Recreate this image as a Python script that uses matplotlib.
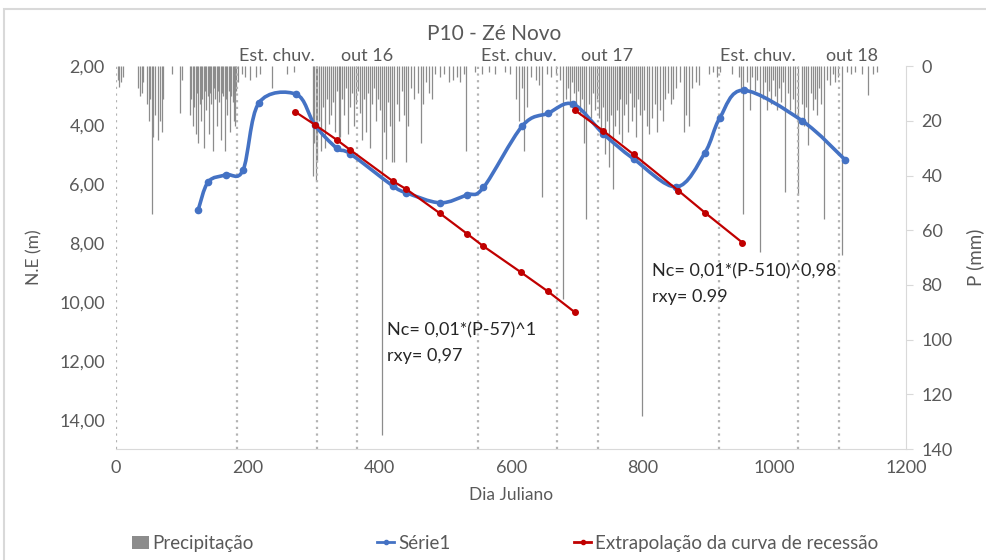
import numpy as np
import matplotlib
matplotlib.use("Agg")
import matplotlib.pyplot as plt
from matplotlib.path import Path
from matplotlib.patches import PathPatch, Patch, Rectangle
from matplotlib.lines import Line2D

plt.rcParams['font.family'] = ['Lato', 'DejaVu Sans']

# Série1 - nível estático (m)
dias_serie1 = [125, 140, 167, 193, 217, 274, 302, 335, 356, 420, 441, 492, 533, 558,
               617, 656, 694, 740, 786, 851, 894, 917, 953, 1042, 1107]
ne_serie1 = [6.87, 5.93, 5.69, 5.53, 3.25, 2.96, 4.00, 4.78, 4.98, 6.06, 6.30, 6.64, 6.37, 6.12,
             4.03, 3.60, 3.29, 4.30, 5.15, 6.10, 4.95, 3.75, 2.82, 3.86, 5.18]

# Extrapolação da curva de recessão (dois trechos)
dias_rec1 = [272, 302, 335, 356, 420, 441, 492, 533, 557, 615, 656, 697]
ne_rec1 = [3.55, 3.99, 4.50, 4.85, 5.90, 6.18, 7.00, 7.69, 8.10, 9.00, 9.65, 10.36]
dias_rec2 = [697, 740, 786, 854, 894, 951]
ne_rec2 = [3.50, 4.20, 5.00, 6.23, 6.97, 7.99]

# Precipitação diária (mm)
chuva = [
    (3, 5), (5, 7.5), (8, 6), (11, 4), (33, 8), (36, 11), (39, 10), (41, 6), (47, 14), (50, 20),
    (52, 12), (54, 54), (57, 26), (59, 18), (64, 27), (67, 20), (70, 24), (72, 12), (85, 3), (97, 17),
    (100, 5), (112, 18), (114, 12), (117, 22), (119, 15), (121, 25), (123, 10), (125, 28), (127, 14),
    (129, 20), (131, 12), (133, 30), (135, 9), (137, 16), (139, 11), (141, 25), (143, 10), (145, 14),
    (147, 31), (149, 8), (151, 12), (153, 22), (155, 9), (157, 13), (159, 27), (161, 10), (163, 11),
    (165, 31), (167, 12), (169, 18), (171, 9), (173, 24), (175, 11), (177, 13), (179, 20), (181, 22),
    (183, 9), (185, 6),
    (192, 3), (196, 4), (204, 5), (212, 4), (218, 3), (237, 8), (260, 3), (270, 2),
    (299, 40), (301, 28), (303, 42), (305, 35), (308, 20), (311, 31), (314, 15), (317, 30), (320, 12),
    (323, 21), (326, 18), (329, 13), (332, 24), (335, 9), (338, 27), (340, 26), (343, 12), (346, 18),
    (349, 8), (352, 25), (355, 15), (358, 10), (361, 22), (364, 14), (367, 9), (371, 17), (374, 27),
    (377, 12), (380, 24), (383, 10), (386, 30), (389, 14), (392, 8), (395, 20), (398, 12), (401, 16),
    (404, 135), (407, 24), (410, 34), (413, 13), (416, 22), (419, 35),
    (422, 35), (426, 14), (430, 20), (434, 9), (438, 18), (441, 35), (444, 22), (448, 8), (452, 12),
    (458, 10), (463, 28), (466, 14), (470, 6), (476, 10), (480, 12), (485, 3), (492, 4), (498, 3),
    (505, 6), (512, 5), (518, 4), (522, 6), (528, 3), (531, 31),
    (545, 2), (556, 3), (566, 2), (575, 3), (590, 2), (598, 3), (608, 12), (612, 20), (616, 8),
    (620, 31), (624, 15), (630, 4), (638, 5), (642, 7), (647, 48), (655, 3), (660, 4), (668, 3), (674, 5),
    (679, 85), (683, 12), (686, 8), (689, 15), (692, 6), (695, 10), (698, 14), (701, 9), (704, 18),
    (707, 12), (710, 28), (714, 56), (718, 14), (721, 19), (724, 10), (727, 16), (730, 12), (733, 19),
    (736, 24), (739, 15), (742, 32), (745, 20), (748, 37), (751, 18), (754, 45), (757, 22), (760, 16),
    (763, 25), (766, 12), (769, 28), (772, 18), (775, 14), (778, 24), (781, 10), (784, 20), (787, 15),
    (790, 26), (793, 12), (796, 18), (799, 128), (802, 16), (806, 22), (810, 25), (814, 19), (818, 14),
    (822, 24), (826, 16), (830, 20), (834, 12), (838, 10), (842, 14), (846, 12), (850, 8), (856, 6),
    (862, 24), (866, 18), (870, 22), (874, 8), (880, 6), (885, 7),
    (900, 3), (906, 2), (912, 4), (917, 2), (935, 3), (946, 4), (949, 10), (952, 54),
    (958, 6), (962, 16), (966, 4), (970, 9), (973, 5), (978, 68), (983, 12), (986, 6), (989, 16),
    (992, 9), (995, 14), (998, 5), (1001, 11), (1004, 16), (1007, 8), (1010, 13), (1013, 6), (1016, 46),
    (1020, 10), (1024, 16), (1028, 12), (1031, 18), (1036, 47), (1041, 14), (1045, 22), (1048, 15),
    (1051, 29), (1055, 10), (1058, 16), (1062, 12), (1065, 18), (1068, 8), (1071, 14), (1075, 56),
    (1080, 5), (1084, 7), (1088, 3), (1092, 6), (1096, 4), (1103, 69), (1110, 2), (1116, 3), (1122, 2),
    (1133, 3), (1142, 10.6), (1150, 3), (1155, 2),
]
dias_chuva = [d for d, p in chuva]
precip = [p for d, p in chuva]

# linhas verticais de referência (dia juliano)
linhas_ref = [0, 184, 305, 366, 550, 670, 732, 915, 1035, 1098]
rotulos_topo = ["Est. chuv.", "out 16", "Est. chuv.", "out 17", "Est. chuv.", "out 18"]
pos_rotulos = [245, 382, 611, 746, 975, 1118]

AZUL = '#4472C4'
VERMELHO = '#C00000'
CINZA_TXT = '#595959'
CINZA_BARRA = '#8c8c8c'


def curva_suave(ax, x, y):
    # curva de Bezier estilo Excel, calculada em coordenadas de tela
    pts = ax.transData.transform(np.column_stack([x, y]))
    n = len(pts)
    verts = [pts[0]]
    codes = [Path.MOVETO]
    for i in range(n - 1):
        p0 = pts[i - 1] if i > 0 else pts[i]
        p1, p2 = pts[i], pts[i + 1]
        p3 = pts[i + 2] if i + 2 < n else pts[i + 1]
        verts += [p1 + (p2 - p0) / 6, p2 - (p3 - p1) / 6, p2]
        codes += [Path.CURVE4] * 3
    verts = ax.transData.inverted().transform(np.array(verts))
    return Path(verts, codes)


fig = plt.figure(figsize=(9.86, 5.6), dpi=100)
ax = fig.add_axes([0.1176, 0.198, 0.8016, 0.684])
ax2 = ax.twinx()

ax.set_xlim(0, 1200)
ax.set_ylim(15, 2)
ax2.set_ylim(140, 0)

# Precipitação (barras finas diárias)
ax2.vlines(dias_chuva, 0, precip, colors=CINZA_BARRA, linewidth=0.9)

ax.set_zorder(ax2.get_zorder() + 1)
ax.patch.set_visible(False)

for d in linhas_ref:
    ax.axvline(d, color='#b3b3b3', linestyle=(0, (1, 2)), linewidth=1.6, zorder=1)

# Série1 suavizada
caminho = curva_suave(ax, dias_serie1, ne_serie1)
ax.add_patch(PathPatch(caminho, facecolor='none', edgecolor=AZUL, linewidth=2.6, zorder=3,
                       capstyle='round', joinstyle='round'))
ax.plot(dias_serie1, ne_serie1, linestyle='none', marker='o', markersize=4.5, color=AZUL, zorder=4)

# Extrapolação
ax.plot(dias_rec1, ne_rec1, color=VERMELHO, linewidth=1.6, marker='o', markersize=4, zorder=5)
ax.plot(dias_rec2, ne_rec2, color=VERMELHO, linewidth=1.6, marker='o', markersize=4, zorder=5)

ax.text(412, 10.97, "Nc= 0,01*(P-57)^1", fontsize=13, color='#262626', va='center', zorder=6)
ax.text(412, 11.85, "rxy= 0,97", fontsize=13, color='#262626', va='center', zorder=6)
ax.text(814, 8.97, "Nc= 0,01*(P-510)^0,98", fontsize=13, color='#262626', va='center', zorder=6)
ax.text(814, 9.85, "rxy= 0.99", fontsize=13, color='#262626', va='center', zorder=6)

for txt, x in zip(rotulos_topo, pos_rotulos):
    ax.text(x, 1.65, txt, fontsize=13, color=CINZA_TXT, ha='center', va='center')

# eixos
ax.set_yticks(range(2, 16, 2))
ax.set_yticklabels([f"{v:.2f}".replace('.', ',') for v in range(2, 16, 2)])
ax.set_xticks(range(0, 1201, 200))
ax2.set_yticks(range(0, 141, 20))
ax.tick_params(axis='both', length=0, labelsize=13, labelcolor=CINZA_TXT, pad=8)
ax2.tick_params(axis='y', length=5, color='#d9d9d9', labelsize=13, labelcolor=CINZA_TXT, pad=6)

for s in ['top', 'left', 'right']:
    ax.spines[s].set_visible(False)
ax.spines['bottom'].set_color('#d9d9d9')
for s in ['top', 'left', 'bottom']:
    ax2.spines[s].set_visible(False)
ax2.spines['right'].set_color('#d9d9d9')

ax.set_xlabel("Dia Juliano", fontsize=12.5, color=CINZA_TXT, labelpad=8)
ax.set_ylabel("N.E (m)", fontsize=12.5, color=CINZA_TXT, labelpad=12)
ax2.set_ylabel("P (mm)", fontsize=13.5, color=CINZA_TXT, labelpad=10)

fig.text(0.501, 0.94, "P10 - Zé Novo", fontsize=15, color=CINZA_TXT, ha='center', va='center')

# legenda
handles = [
    Patch(facecolor=CINZA_BARRA, edgecolor='none'),
    Line2D([], [], color=AZUL, linewidth=2, marker='o', markersize=3),
    Line2D([], [], color=VERMELHO, linewidth=2, marker='o', markersize=3),
]
fig.legend(handles, ["Precipitação", "Série1", "Extrapolação da curva de recessão"],
           loc='center', bbox_to_anchor=(0.512, 0.03), ncol=3, frameon=False,
           fontsize=13.5, labelcolor=CINZA_TXT, handlelength=0.9, handletextpad=0.2,
           columnspacing=6.6, handleheight=0.7)

fig.add_artist(Rectangle((4 / 986, -0.01), 1.0, 1 - 9 / 560 + 0.01, transform=fig.transFigure,
                         fill=False, edgecolor='#d9d9d9', linewidth=1.5))

fig.savefig("out.png", dpi=100)
